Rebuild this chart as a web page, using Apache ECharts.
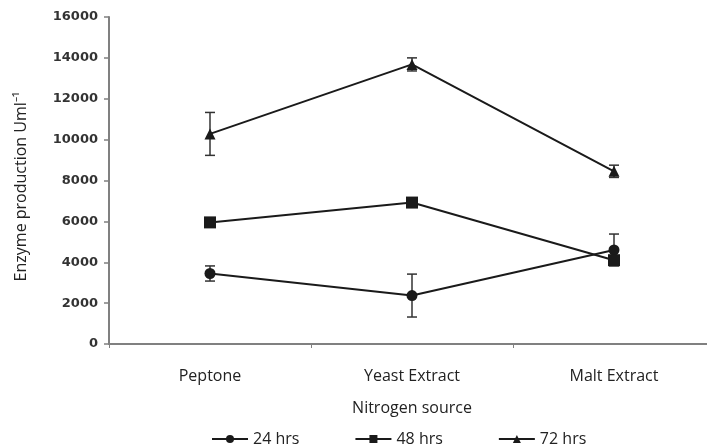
<!DOCTYPE html>
<html>
<head>
<meta charset="utf-8">
<script src="https://cdn.jsdelivr.net/npm/echarts@6/dist/echarts.min.js"></script>
<style>
  html, body { margin: 0; padding: 0; background: #fff; }
  #main { width: 707px; height: 447px; }
</style>
</head>
<body>
<div id="main"></div>
<script>
// categories and series
var categories = ['Peptone', 'Yeast Extract', 'Malt Extract'];
var yTicks = [0, 2000, 4000, 6000, 8000, 10000, 12000, 14000, 16000];

var hrs24 = [3450, 2370, 4600];
var hrs24Err = [370, 1050, 780];
var hrs48 = [5950, 6920, 4100];
var hrs48Err = [0, 0, 0];
var hrs72 = [10280, 13680, 8450];
var hrs72Err = [1050, 320, 300];

var lineColor = '#1a1a1a';

// error bar series built on the chart's own coordinates
function errorSeries(name, vals, errs) {
  var data = vals.map(function (v, i) { return [i, v - errs[i], v + errs[i]]; });
  return {
    name: name,
    type: 'custom',
    z: 1,
    silent: true,
    renderItem: function (params, api) {
      var x = api.value(0);
      var lo = api.coord([x, api.value(1)]);
      var hi = api.coord([x, api.value(2)]);
      if (hi[1] === lo[1]) return null;
      var w = 5;
      var s = { stroke: '#333', lineWidth: 1.5 };
      return {
        type: 'group',
        children: [
          { type: 'line', shape: { x1: lo[0], y1: lo[1], x2: hi[0], y2: hi[1] }, style: s },
          { type: 'line', shape: { x1: lo[0] - w, y1: lo[1], x2: lo[0] + w, y2: lo[1] }, style: s },
          { type: 'line', shape: { x1: hi[0] - w, y1: hi[1], x2: hi[0] + w, y2: hi[1] }, style: s }
        ]
      };
    },
    data: data
  };
}

function lineSeries(name, vals, symbol, size) {
  return {
    name: name,
    type: 'line',
    z: 3,
    data: vals,
    symbol: symbol,
    symbolSize: size,
    showAllSymbol: true,
    lineStyle: { color: lineColor, width: 2 },
    itemStyle: { color: lineColor, borderWidth: 0 }
  };
}

var myChart = echarts.init(document.getElementById('main'));
var option = {
  animation: false,
  grid: { left: 109, top: 17, height: 327, width: 606, outerBoundsMode: 'none', containLabel: false },
  legend: {
    bottom: -5,
    left: 206,
    itemGap: 55,
    itemWidth: 36,
    itemHeight: 10,
    data: ['24 hrs', '48 hrs', '72 hrs'],
    textStyle: { fontFamily: 'Open Sans', fontSize: 16, color: '#222' }
  },
  xAxis: {
    type: 'category',
    data: categories,
    boundaryGap: true,
    name: 'Nitrogen source',
    nameLocation: 'middle',
    nameGap: 56,
    nameTextStyle: { fontFamily: 'Open Sans', fontSize: 16, color: '#222' },
    axisLine: { lineStyle: { color: '#808080', width: 2 } },
    axisTick: { show: true, inside: false, length: 4, lineStyle: { color: '#808080', width: 1 } },
    axisLabel: { fontFamily: 'Open Sans', fontSize: 16, color: '#222', margin: 24 },
    splitLine: { show: false }
  },
  yAxis: {
    type: 'value',
    min: yTicks[0],
    max: yTicks[yTicks.length - 1],
    interval: yTicks[1] - yTicks[0],
    name: 'Enzyme production Uml\u207B\u00B9',
    nameLocation: 'middle',
    nameGap: 80,
    nameTextStyle: { fontFamily: 'Open Sans', fontSize: 16, color: '#222', padding: [0, 12, 0, 0] },
    axisLine: { show: true, lineStyle: { color: '#808080', width: 2 } },
    axisTick: { show: true, inside: false, length: 5, lineStyle: { color: '#808080', width: 1.5 } },
    axisLabel: {
      fontFamily: 'DejaVu Sans', fontWeight: 'bold', fontSize: 13, color: '#333', margin: 11,
      formatter: function (v) { return String(v); }
    },
    splitLine: { show: false }
  },
  series: [
    errorSeries('err24', hrs24, hrs24Err),
    errorSeries('err48', hrs48, hrs48Err),
    errorSeries('err72', hrs72, hrs72Err),
    lineSeries('24 hrs', hrs24, 'circle', 11),
    lineSeries('48 hrs', hrs48, 'rect', 12),
    lineSeries('72 hrs', hrs72, 'triangle', 11)
  ]
};
myChart.setOption(option);
</script>
</body>
</html>
